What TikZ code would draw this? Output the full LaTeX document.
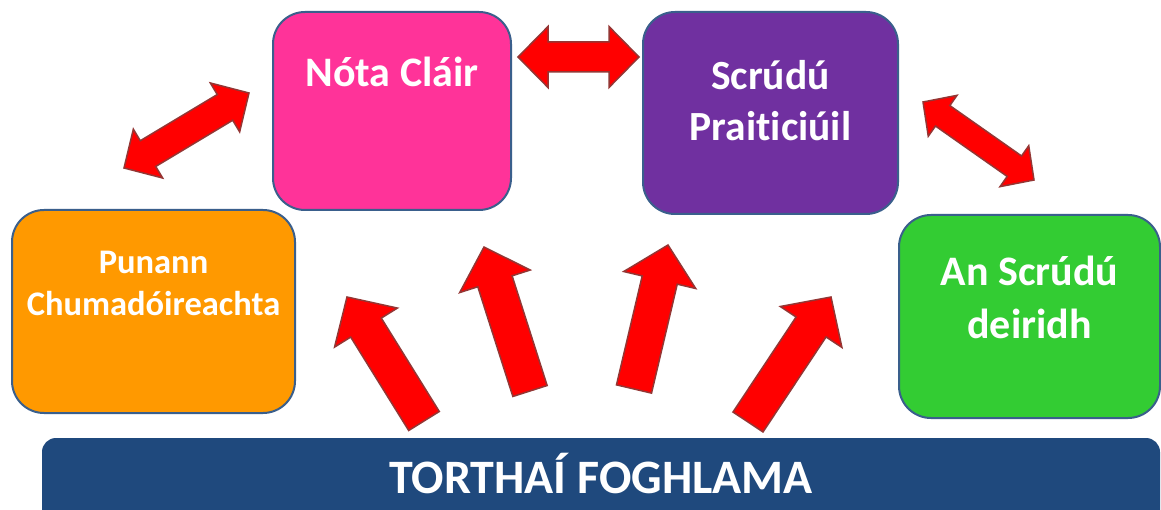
\documentclass[tikz,border=0pt]{standalone}
\usepackage{fontspec}
\setmainfont[Ligatures=NoCommon]{Carlito}
\usetikzlibrary{calc}

\definecolor{pinkfill}{HTML}{FF3399}
\definecolor{purplefill}{HTML}{7030A0}
\definecolor{orangefill}{HTML}{FF9900}
\definecolor{greenfill}{HTML}{33CC33}
\definecolor{barblue}{HTML}{1F497D}
\definecolor{boxline}{HTML}{3A5F8C}
\definecolor{arrline}{HTML}{943634}

\newcommand{\singlearr}[2]{%
	\coordinate (arrbase) at ($(#2)!36pt!(#1)$);
	\draw[arr] ($(#1)!18pt!90:(#2)$) -- ($(arrbase)!18pt!90:(#2)$) -- ($(arrbase)!37pt!90:(#2)$) -- (#2)
		-- ($(arrbase)!37pt!-90:(#2)$) -- ($(arrbase)!18pt!-90:(#2)$) -- ($(#1)!18pt!-90:(#2)$) -- cycle;
}
\newcommand{\doublearr}[5]{%
	\coordinate (arrbasea) at ($(#1)!#5!(#2)$);
	\coordinate (arrbaseb) at ($(#2)!#5!(#1)$);
	\draw[arr] (#1) -- ($(arrbasea)!#4!90:(#2)$) -- ($(arrbasea)!#3!90:(#2)$) -- ($(arrbaseb)!#3!90:(#2)$)
		-- ($(arrbaseb)!#4!90:(#2)$) -- (#2) -- ($(arrbaseb)!#4!-90:(#2)$) -- ($(arrbaseb)!#3!-90:(#2)$)
		-- ($(arrbasea)!#3!-90:(#2)$) -- ($(arrbasea)!#4!-90:(#2)$) -- cycle;
}

\begin{document}
\begin{tikzpicture}[x=1pt, y=-1pt,
	box/.style={draw=boxline, line width=2pt, rounded corners=32pt, inner ysep=0pt, text=white, align=center},
	arr/.style={fill=red, draw=arrline, line width=1.5pt, line join=miter}]
	\useasboundingbox (0,0) rectangle (1161,510);
	\clip (0,0) rectangle (1161,510);
	\fill[white] (0,0) rectangle (1161,510);

	\draw (392,111) node[box, fill=pinkfill, minimum width=238pt, text height=75pt, text depth=123pt, font=\fontsize{42}{51}\selectfont\bfseries] (nota) {Nóta Cláir};
	\draw (770.5,113) node[box, fill=purplefill, minimum width=255pt, text height=128.5pt, text depth=73.5pt, font=\fontsize{41.5}{51}\selectfont\bfseries] (scrudu) {Scrúdú\\Praiticiúil};
	\draw (153.5,311.5) node[box, fill=orangefill, minimum width=283pt, text height=105.5pt, text depth=97.5pt, font=\fontsize{34.5}{42}\selectfont\bfseries] (punann) {Punann\\Chumadóireachta};
	\draw (1029.5,316.5) node[box, fill=greenfill, minimum width=261pt, text height=123.5pt, text depth=79.5pt, font=\fontsize{42}{53}\selectfont\bfseries] (deireadh) {An Scrúdú\\deiridh};

	\draw (601,488) node[fill=barblue, rounded corners=14pt, minimum width=1118pt, inner ysep=0pt, text height=55pt, text depth=45pt, text=white, font=\fontsize{48}{55}\selectfont\bfseries] (torthai) {TORTHAÍ FOGHLAMA};

	\coordinate (d1) at (124,168);
	\coordinate (d2) at (249,93);
	\coordinate (d3) at (518,57);
	\coordinate (d4) at (639,57);
	\coordinate (d5) at (923,102);
	\coordinate (d6) at (1034,180);
	\doublearr{d1}{d2}{15pt}{28.5pt}{28pt}
	\doublearr{d3}{d4}{15pt}{30.5pt}{30pt}
	\doublearr{d5}{d6}{12.5pt}{25pt}{24pt}

	\coordinate (a1) at (424,421);
	\coordinate (b1) at (347,297);
	\coordinate (a2) at (530,391);
	\coordinate (b2) at (484,247);
	\coordinate (a3) at (634,389);
	\coordinate (b3) at (668,245);
	\coordinate (a4) at (748,422);
	\coordinate (b4) at (831,297);
	\singlearr{a1}{b1}
	\singlearr{a2}{b2}
	\singlearr{a3}{b3}
	\singlearr{a4}{b4}
\end{tikzpicture}
\end{document}
